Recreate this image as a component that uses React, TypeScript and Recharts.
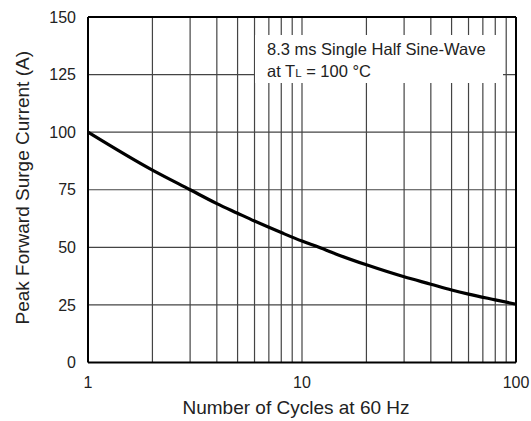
import React from "react";
import {
  LineChart,
  Line,
  XAxis,
  YAxis,
  CartesianGrid,
  ReferenceLine,
  Label,
} from "recharts";

const cycles = [1, 2, 3, 4, 5, 6, 8, 10, 12, 15, 20, 30, 40, 50, 60, 80, 100];
const surgeCurrent = [100, 83.5, 75, 69, 64.8, 61.4, 56.4, 52.7, 50, 46.5, 42.4, 37.2, 34, 31.5, 29.7, 27.2, 25.3];
const xTicks = [1, 10, 100];
const yTicks = [0, 25, 50, 75, 100, 125, 150];
const minorX = [2, 3, 4, 5, 6, 7, 8, 9, 10, 20, 30, 40, 50, 60, 70, 80, 90];

const data = cycles.map((c, i) => ({ cycles: c, current: surgeCurrent[i] }));

const FONT = "'Liberation Sans', Arial, Helvetica, sans-serif";

export default function App() {
  return (
    <div style={{ position: "absolute", left: 0, top: 0, width: 531, height: 421, background: "#fff", fontFamily: FONT }}>
      <LineChart
        width={531}
        height={421}
        data={data}
        margin={{ top: 17, right: 15, left: 0, bottom: 0 }}
      >
        <CartesianGrid vertical={false} stroke="#444" strokeWidth={1.2} />
        {minorX.map((v) => (
          <ReferenceLine key={v} x={v} stroke="#444" strokeWidth={1.2} ifOverflow="hidden" />
        ))}
        <XAxis
          dataKey="cycles"
          type="number"
          scale="log"
          domain={[1, 100]}
          ticks={xTicks}
          allowDataOverflow
          height={58.5}
          tickLine={false}
          tickSize={6}
          tickMargin={8}
          axisLine={{ stroke: "#000", strokeWidth: 2 }}
          tick={{ fill: "#222", fontSize: 16, fontFamily: FONT }}
        >
          <Label
            content={({ viewBox }: any) => (
              <text
                x={viewBox.x + viewBox.width / 2 - 6}
                y={414}
                textAnchor="middle"
                fill="#222"
                fontSize={19}
                fontFamily={FONT}
              >
                Number of Cycles at 60 Hz
              </text>
            )}
          />
        </XAxis>
        <YAxis
          type="number"
          domain={[0, 150]}
          ticks={yTicks}
          width={88}
          tickLine={false}
          tickSize={6}
          tickMargin={6}
          axisLine={{ stroke: "#000", strokeWidth: 2 }}
          tick={{ fill: "#222", fontSize: 16, fontFamily: FONT }}
        >
          <Label
            content={({ viewBox }: any) => {
              const cy = viewBox.y + viewBox.height / 2 - 2;
              return (
                <text
                  x={29}
                  y={cy}
                  transform={`rotate(-90 29 ${cy})`}
                  textAnchor="middle"
                  fill="#222"
                  fontSize={19}
                  fontFamily={FONT}
                >
                  Peak Forward Surge Current (A)
                </text>
              );
            }}
          />
        </YAxis>
        <ReferenceLine y={150} stroke="#000" strokeWidth={2} />
        <ReferenceLine x={100} stroke="#000" strokeWidth={2} />
        <Line
          type="monotone"
          dataKey="current"
          stroke="#000"
          strokeWidth={3.2}
          dot={false}
          activeDot={false}
          isAnimationActive={false}
        />
      </LineChart>
      <div
        style={{
          position: "absolute",
          left: 255,
          top: 35,
          width: 248,
          height: 48,
          background: "#fff",
          boxSizing: "border-box",
          paddingLeft: 12,
          paddingTop: 3,
          fontSize: 16.5,
          lineHeight: "22px",
          color: "#222",
          fontFamily: FONT,
          whiteSpace: "nowrap",
        }}
      >
        <div>8.3 ms Single Half Sine-Wave</div>
        <div>
          at T<span style={{ fontSize: "0.7em" }}>L</span> = 100 °C
        </div>
      </div>
    </div>
  );
}
